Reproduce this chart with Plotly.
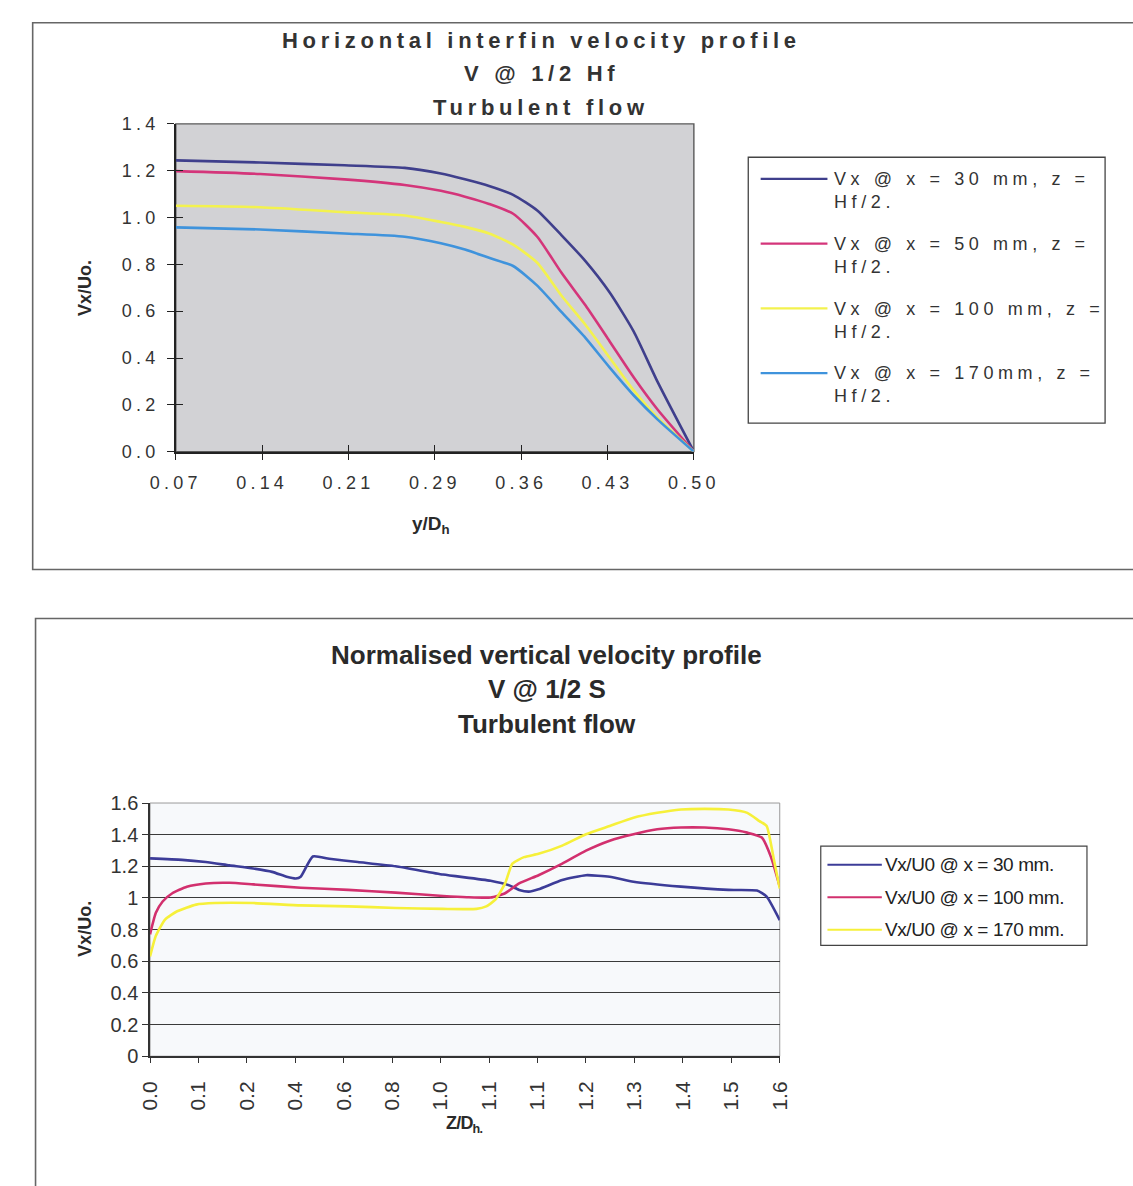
import plotly.graph_objects as go

W, H = 1133, 1186

# ---------------- top chart: horizontal interfin velocity profile ----------------
y_dh = [0.07, 0.14, 0.21, 0.26, 0.29, 0.31, 0.33, 0.35, 0.37, 0.39, 0.41, 0.43, 0.45, 0.47, 0.50]
vx_30mm = [1.244, 1.235, 1.223, 1.212, 1.188, 1.163, 1.135, 1.097, 1.030, 0.925, 0.814, 0.681, 0.514, 0.297, 0.0]
vx_50mm = [1.198, 1.186, 1.163, 1.139, 1.114, 1.089, 1.058, 1.016, 0.918, 0.765, 0.625, 0.472, 0.318, 0.179, 0.0]
vx_100mm = [1.050, 1.044, 1.023, 1.009, 0.981, 0.960, 0.932, 0.884, 0.807, 0.667, 0.542, 0.402, 0.262, 0.144, 0.0]
vx_170mm = [0.958, 0.949, 0.932, 0.918, 0.890, 0.863, 0.828, 0.793, 0.709, 0.597, 0.486, 0.360, 0.241, 0.137, 0.0]
top_xticks = ["0.07", "0.14", "0.21", "0.29", "0.36", "0.43", "0.50"]
top_yticks = [0.0, 0.2, 0.4, 0.6, 0.8, 1.0, 1.2, 1.4]
top_names = [("Vx @ x = 30 mm, z =", "Hf/2."), ("Vx @ x = 50 mm, z =", "Hf/2."),
             ("Vx @ x = 100 mm, z =", "Hf/2."), ("Vx @ x = 170mm, z =", "Hf/2.")]
top_colors = ["#3f3f8c", "#d4357a", "#f3f24e", "#3f93dc"]

# ---------------- bottom chart: normalised vertical velocity profile ----------------
bottom_xticks = ["0.0", "0.1", "0.2", "0.4", "0.6", "0.8", "1.0", "1.1", "1.1",
                 "1.2", "1.3", "1.4", "1.5", "1.6"]
# positions along the category axis (0 = first category, 13 = last)
z_pos_30 = [0, 0.66, 1.15, 1.64, 2.13, 2.52, 2.82, 3.01, 3.11, 3.36, 3.70, 4.29, 5.07, 6.05,
            7.03, 7.43, 7.62, 7.82, 8.02, 8.51, 9.00, 9.49, 9.98, 10.96, 11.94, 12.53, 12.73, 13.0]
vx_u0_30 = [1.25, 1.241, 1.227, 1.206, 1.186, 1.165, 1.134, 1.123, 1.134, 1.262, 1.248, 1.227, 1.200,
            1.148, 1.109, 1.078, 1.051, 1.040, 1.055, 1.113, 1.144, 1.134, 1.103, 1.072, 1.051,
            1.047, 1.009, 0.86]
z_pos_100 = [0, 0.12, 0.26, 0.46, 0.76, 1.15, 1.64, 2.13, 3.11, 4.09, 5.07, 6.05, 6.54, 7.03, 7.33,
             7.62, 8.02, 8.51, 9.00, 9.49, 9.98, 10.47, 10.96, 11.45, 11.94, 12.33, 12.63, 12.82, 13.0]
vx_u0_100 = [0.77, 0.906, 0.978, 1.030, 1.071, 1.092, 1.096, 1.086, 1.065, 1.051, 1.034, 1.013, 1.005,
             1.003, 1.030, 1.092, 1.144, 1.217, 1.299, 1.362, 1.403, 1.434, 1.445, 1.445, 1.434,
             1.413, 1.382, 1.258, 1.071]
z_pos_170 = [0, 0.12, 0.31, 0.56, 0.95, 1.34, 2.13, 3.11, 4.09, 5.07, 6.05, 6.74, 6.94, 7.13, 7.33,
             7.48, 7.72, 8.02, 8.51, 9.00, 9.49, 9.98, 10.47, 10.96, 11.45, 11.94, 12.33, 12.58,
             12.73, 12.87, 13.0]
vx_u0_170 = [0.63, 0.761, 0.864, 0.916, 0.958, 0.968, 0.968, 0.953, 0.947, 0.937, 0.931, 0.931, 0.947,
             0.989, 1.092, 1.217, 1.258, 1.279, 1.331, 1.403, 1.455, 1.507, 1.538, 1.559, 1.563,
             1.559, 1.538, 1.486, 1.455, 1.258, 1.06]
bottom_names = ["Vx/U0 @ x = 30 mm.", "Vx/U0 @ x = 100 mm.", "Vx/U0 @ x = 170 mm."]
bottom_colors = ["#3c3c98", "#d2306e", "#f6f03a"]

FONT = "Liberation Sans, Arial, sans-serif"


def px(x):
    return x / W


def py(y):
    return 1 - y / H


def spaced(text, ls):
    return f'<span style="letter-spacing:{ls}px">{text}</span>'


fig = go.Figure()

for vals, col in zip([vx_30mm, vx_50mm, vx_100mm, vx_170mm], top_colors):
    fig.add_trace(go.Scatter(x=y_dh, y=vals, mode="lines", xaxis="x", yaxis="y",
                             line=dict(color=col, width=2.6, shape="spline", smoothing=0.6),
                             showlegend=False, hoverinfo="skip"))

# empty trace that carries the overlay axes used for the inner tick halves
fig.add_trace(go.Scatter(x=[None], y=[None], mode="lines", xaxis="x3", yaxis="y3",
                         showlegend=False, hoverinfo="skip"))

for (zp, vals), col in zip([(z_pos_30, vx_u0_30), (z_pos_100, vx_u0_100), (z_pos_170, vx_u0_170)],
                           bottom_colors):
    fig.add_trace(go.Scatter(x=zp, y=vals, mode="lines", xaxis="x2", yaxis="y2",
                             line=dict(color=col, width=2.6, shape="spline", smoothing=0.5),
                             showlegend=False, hoverinfo="skip"))

n = len(top_xticks)
top_xvals = [0.07 + i * (0.50 - 0.07) / (n - 1) for i in range(n)]
top_dom_x = [px(157), px(700)]
top_dom_y = [py(449), py(115)]

fig.update_layout(
    width=W, height=H,
    margin=dict(l=0, r=0, t=0, b=0),
    paper_bgcolor="white",
    plot_bgcolor="rgba(0,0,0,0)",
    font=dict(family=FONT, color="#2a2a2a"),
    xaxis=dict(domain=top_dom_x, range=[0.07, 0.50], anchor="y",
               tickvals=top_xvals, ticktext=[spaced(t, 4.2) for t in top_xticks],
               ticks="outside", ticklen=7, tickcolor="#222", tickwidth=1.3, ticklabelstandoff=7,
               showline=True, linecolor="#222", linewidth=1.5,
               showgrid=False, zeroline=False, tickfont=dict(size=18, color="#333")),
    yaxis=dict(domain=top_dom_y, range=[0, 1.4], anchor="x",
               tickvals=top_yticks, ticktext=[spaced(f"{v:.1f}", 4.2) for v in top_yticks],
               ticks="outside", ticklen=7, tickcolor="#222", tickwidth=1.3, ticklabelstandoff=4,
               showline=True, linecolor="#222", linewidth=1.5,
               showgrid=False, zeroline=False, tickfont=dict(size=18, color="#333")),
    # inner halves of the crossing tick marks on the top chart
    xaxis3=dict(domain=top_dom_x, range=[0.07, 0.50], anchor="y3", overlaying="x",
                tickvals=top_xvals, ticks="inside", ticklen=7, tickcolor="#222", tickwidth=1.3,
                showticklabels=False, showline=False, showgrid=False, zeroline=False),
    yaxis3=dict(domain=top_dom_y, range=[0, 1.4], anchor="x3", overlaying="y",
                tickvals=top_yticks, ticks="inside", ticklen=7, tickcolor="#222", tickwidth=1.3,
                showticklabels=False, showline=False, showgrid=False, zeroline=False),
    xaxis2=dict(domain=[px(130), px(790)], range=[0, 13], anchor="y2",
                tickvals=list(range(len(bottom_xticks))), ticktext=bottom_xticks,
                tickangle=-90, ticks="outside", ticklen=5, tickcolor="#333", ticklabelstandoff=10,
                showline=True, linecolor="#333", linewidth=1.5,
                showgrid=False, zeroline=False, tickfont=dict(size=21, color="#333")),
    yaxis2=dict(domain=[py(1065), py(807)], range=[0, 1.6], anchor="x2",
                tickvals=[0, 0.2, 0.4, 0.6, 0.8, 1.0, 1.2, 1.4, 1.6],
                ticks="outside", ticklen=6, tickcolor="#333",
                showline=True, linecolor="#333", linewidth=1.5,
                showgrid=True, gridcolor="#3a3a3a", gridwidth=1.4,
                zeroline=False, tickfont=dict(size=20, color="#333")),
)

shapes = []
# page frames around each chart
shapes.append(dict(type="rect", xref="paper", yref="paper", x0=px(7), x1=px(1250),
                   y0=py(569), y1=py(12), line=dict(color="#666", width=1.6)))
shapes.append(dict(type="rect", xref="paper", yref="paper", x0=px(10), x1=px(1250),
                   y0=py(1250), y1=py(619), line=dict(color="#666", width=1.6)))
# grey plot area of the top chart
shapes.append(dict(type="rect", xref="paper", yref="paper", x0=px(157), x1=px(700),
                   y0=py(449), y1=py(115), fillcolor="#d2d2d5",
                   line=dict(color="#5a5a5a", width=1.4), layer="below"))
# light plot area of the bottom chart
shapes.append(dict(type="rect", xref="paper", yref="paper", x0=px(130), x1=px(790),
                   y0=py(1065), y1=py(807), fillcolor="#f7f9fb",
                   line=dict(color="#9a9a9a", width=1), layer="below"))
# legend boxes
shapes.append(dict(type="rect", xref="paper", yref="paper", x0=px(757), x1=px(1131),
                   y0=py(420), y1=py(149), line=dict(color="#444", width=1.3), fillcolor="white"))
shapes.append(dict(type="rect", xref="paper", yref="paper", x0=px(833), x1=px(1112),
                   y0=py(952), y1=py(851), line=dict(color="#444", width=1.2), fillcolor="white"))

annotations = []
for i, ((l1, l2), col) in enumerate(zip(top_names, top_colors)):
    yy = 171 + i * 66
    shapes.append(dict(type="line", xref="paper", yref="paper", x0=px(770), x1=px(840),
                       y0=py(yy), y1=py(yy), line=dict(color=col, width=2.2)))
    annotations.append(dict(xref="paper", yref="paper", x=px(845), y=py(yy + 12),
                            xanchor="left", yanchor="middle", align="left", showarrow=False,
                            text=spaced(l1, 4.6) + "<br>" + spaced(l2, 4.6),
                            font=dict(size=18, color="#333")))

for i, (name, col) in enumerate(zip(bottom_names, bottom_colors)):
    yy = 870 + i * 33
    shapes.append(dict(type="line", xref="paper", yref="paper", x0=px(840), x1=px(897),
                       y0=py(yy), y1=py(yy), line=dict(color=col, width=2)))
    annotations.append(dict(xref="paper", yref="paper", x=px(898), y=py(yy),
                            xanchor="left", yanchor="middle", showarrow=False,
                            text=spaced(name, -0.4), font=dict(size=19, color="#222")))

# chart titles
top_title = ["Horizontal interfin velocity profile", "V @ 1/2 Hf", "Turbulent flow"]
for i, line in enumerate(top_title):
    annotations.append(dict(xref="paper", yref="paper", x=px(540), y=py(30 + i * 34),
                            xanchor="center", yanchor="middle", showarrow=False,
                            text="<b>" + spaced(line, 4.7) + "</b>", font=dict(size=22, color="#333")))
bottom_title = ["Normalised vertical velocity profile", "V @ 1/2 S", "Turbulent flow"]
for i, line in enumerate(bottom_title):
    annotations.append(dict(xref="paper", yref="paper", x=px(546), y=py(656 + i * 35),
                            xanchor="center", yanchor="middle", showarrow=False,
                            text="<b>" + line + "</b>", font=dict(size=26, color="#2a2a2a")))

# axis titles
annotations.append(dict(xref="paper", yref="paper", x=px(62), y=py(282), textangle=-90,
                        xanchor="center", yanchor="middle", showarrow=False,
                        text="<b>Vx/Uo.</b>", font=dict(size=18, color="#2a2a2a")))
annotations.append(dict(xref="paper", yref="paper", x=px(425), y=py(524),
                        xanchor="center", yanchor="middle", showarrow=False,
                        text="<b>y/D<sub>h</sub></b>", font=dict(size=19, color="#2a2a2a")))
annotations.append(dict(xref="paper", yref="paper", x=px(62), y=py(935), textangle=-90,
                        xanchor="center", yanchor="middle", showarrow=False,
                        text="<b>Vx/Uo.</b>", font=dict(size=18, color="#2a2a2a")))
annotations.append(dict(xref="paper", yref="paper", x=px(460), y=py(1135),
                        xanchor="center", yanchor="middle", showarrow=False,
                        text="<b>" + spaced("Z/D<sub>h.</sub>", -0.8) + "</b>",
                        font=dict(size=18, color="#2a2a2a")))

fig.update_layout(shapes=shapes, annotations=annotations)
fig.write_html("out.html")
